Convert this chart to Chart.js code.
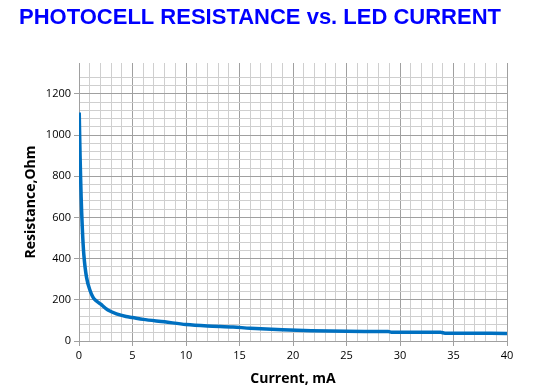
<!DOCTYPE html>
<html>
<head>
<meta charset="utf-8">
<script src="https://cdn.jsdelivr.net/npm/chart.js@4.4.1/dist/chart.umd.min.js"></script>
<style>
html,body{margin:0;padding:0;background:#fff;}
#wrap{width:551px;height:391px;position:relative;}
</style>
</head>
<body>
<div id="wrap"><canvas id="c" width="551" height="391"></canvas></div>
<script>
const chartTitle = 'PHOTOCELL RESISTANCE vs. LED CURRENT';
const xAxisTitle = 'Current, mA';
const yAxisTitle = 'Resistance,Ohm';
const currentMA = [0.02, 0.1, 0.2, 0.3, 0.45, 0.7, 1.0, 1.4, 2.0, 2.7, 3.5, 4.4, 5, 6, 8, 10, 12, 14.4, 16, 19, 21.7, 25, 28.9, 29.2, 33.8, 34.2, 40];
const resistanceOhm = [1110, 900, 700, 560, 420, 310, 250, 205, 180, 150, 132, 119, 114, 105, 93, 80, 73, 68, 62, 55, 50, 47, 46, 43, 42, 38, 37];
const xTickLabels = [0, 5, 10, 15, 20, 25, 30, 35, 40];
const yTickLabels = [0, 200, 400, 600, 800, 1000, 1200];

const points = currentMA.map((x, i) => ({x: x, y: resistanceOhm[i]}));
const MINOR = '#cfcfcf', MAJOR = '#a0a0a0';

const titlePlugin = {
  id: 'fixedTitle',
  afterDraw(chart) {
    const ctx = chart.ctx;
    ctx.save();
    ctx.font = 'bold 22px "Liberation Sans", Arial, sans-serif';
    ctx.fillStyle = '#0000ff';
    ctx.textAlign = 'center';
    ctx.textBaseline = 'middle';
    ctx.fillText(chartTitle, 260, 18);
    ctx.restore();
  }
};

new Chart(document.getElementById('c'), {
  type: 'line',
  data: {
    datasets: [{
      data: points,
      borderColor: '#0070c0',
      borderWidth: 3.5,
      pointRadius: 0,
      tension: 0.3,
      fill: false
    }]
  },
  options: {
    responsive: false,
    animation: false,
    layout: {padding: {top: 63, right: 44, left: 0, bottom: 0}},
    plugins: {legend: {display: false}, tooltip: {enabled: false}, title: {display: false}},
    scales: {
      x: {
        type: 'linear', min: 0, max: 40,
        afterFit(s) { s.height = 50; },
        ticks: {
          stepSize: 1, autoSkip: false, maxRotation: 0,
          color: '#000', font: {family: '"Open Sans", sans-serif', size: 11},
          padding: 3,
          callback: v => xTickLabels.includes(v) ? String(v) : ''
        },
        grid: {
          color: c => (c.tick && c.tick.value % 5 === 0) ? MAJOR : MINOR,
          tickColor: c => (c.tick && c.tick.value % 5 === 0) ? MAJOR : 'rgba(0,0,0,0)',
          tickLength: 5, lineWidth: 1
        },
        border: {color: MAJOR},
        title: {display: true, text: xAxisTitle, color: '#000',
          font: {family: '"Open Sans", sans-serif', size: 14, weight: 'bold'}, padding: {top: 1}}
      },
      y: {
        type: 'linear', min: 0, max: 1350,
        afterFit(s) { s.width = 79; },
        ticks: {
          stepSize: 40, autoSkip: false,
          color: '#000', font: {family: '"Open Sans", sans-serif', size: 11},
          padding: 3,
          callback: v => yTickLabels.includes(v) ? String(v) : ''
        },
        grid: {
          color: c => !c.tick ? MINOR : (c.tick.value % 200 === 0 ? MAJOR : (c.tick.value % 40 === 0 ? MINOR : 'rgba(0,0,0,0)')),
          tickColor: c => (c.tick && c.tick.value % 200 === 0) ? MAJOR : 'rgba(0,0,0,0)',
          tickLength: 5, lineWidth: 1
        },
        border: {color: MAJOR},
        title: {display: true, text: yAxisTitle, color: '#000',
          font: {family: '"Open Sans", sans-serif', size: 14, weight: 'bold'}, padding: {top: 23, bottom: 0}}
      }
    }
  },
  plugins: [titlePlugin]
});
</script>
</body>
</html>
